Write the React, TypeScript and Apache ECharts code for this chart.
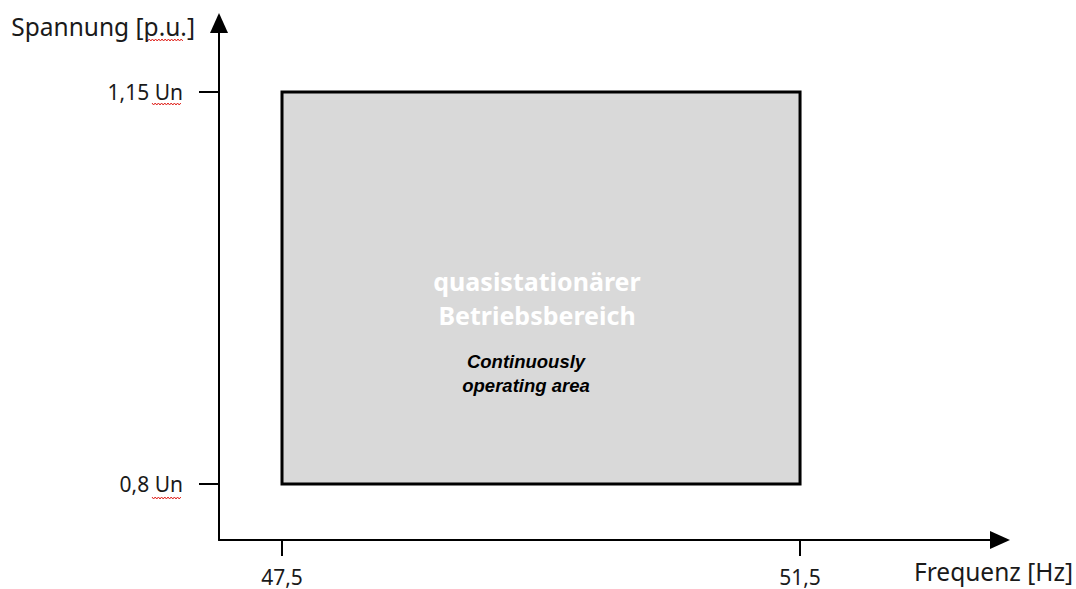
import React, { useEffect, useRef } from "react";
import * as echarts from "echarts";

// ---- data ----
const freqTicks = [47.5, 51.5];
const freqTickLabels = ["47,5", "51,5"];
const voltTicks = [0.8, 1.15];
const voltTickLabels = ["0,8 Un", "1,15 Un"];
const areaFreq = [47.5, 51.5];
const areaVolt = [0.8, 1.15];
const areaTitle = ["quasistationärer", "Betriebsbereich"];
const areaSubtitle = ["Continuously", "operating area"];
const xName = "Frequenz [Hz]";
const yName = "Spannung [p.u.]";

const FONT = "'Noto Sans', 'Open Sans', sans-serif";

// decorative spell-check squiggle (as in the source document)
function squiggle(x0: number, x1: number, y: number) {
  const pts: number[][] = [];
  let up = true;
  for (let x = x0; x <= x1; x += 1.6) {
    pts.push([x, up ? y - 1 : y + 1]);
    up = !up;
  }
  return {
    type: "polyline",
    shape: { points: pts },
    style: { stroke: "#e0201a", lineWidth: 1, fill: null },
    silent: true,
  };
}

export default function App() {
  const ref = useRef<HTMLDivElement>(null);
  useEffect(() => {
    if (!ref.current) return;
    const chart = echarts.init(ref.current, null, { renderer: "svg" });
    const fmtX = (v: number) => {
      const i = freqTicks.indexOf(v);
      return i >= 0 ? freqTickLabels[i] : "";
    };
    const fmtY = (v: number) => {
      const i = voltTicks.findIndex((t) => Math.abs(t - v) < 1e-9);
      return i >= 0 ? voltTickLabels[i] : "";
    };
    chart.setOption({
      animation: false,
      backgroundColor: "#ffffff",
      grid: {
        left: 219,
        right: 76,
        top: 23,
        bottom: 49,
        containLabel: false,
        outerBoundsMode: "none",
      },
      graphic: [
        squiggle(146, 183, 40),
        squiggle(152, 181, 104),
        squiggle(152, 181, 498),
      ],
      xAxis: {
        type: "value",
        min: 47.0135,
        max: 53.044,
        name: xName,
        nameLocation: "end",
        nameGap: 73,
        nameTextStyle: {
          fontFamily: FONT,
          fontSize: 24.5,
          color: "#1a1a1a",
          align: "right",
          verticalAlign: "top",
          padding: [19, 0, 0, 0],
        },
        axisLine: {
          show: true,
          lineStyle: { color: "#000", width: 2 },
          symbol: ["none", "triangle"],
          symbolSize: [18, 20],
        },
        axisTick: {
          show: true,
          inside: false,
          length: 16,
          lineStyle: { color: "#000", width: 2 },
          customValues: freqTicks,
        },
        axisLabel: {
          show: true,
          margin: 26,
          fontFamily: FONT,
          fontSize: 21,
          color: "#1a1a1a",
          customValues: freqTicks,
          formatter: fmtX,
        },
        splitLine: { show: false },
      },
      yAxis: {
        type: "value",
        min: 0.75,
        max: 1.2116,
        name: yName,
        nameLocation: "end",
        nameGap: -3,
        nameTextStyle: {
          fontFamily: FONT,
          fontSize: 24.5,
          color: "#1a1a1a",
          align: "right",
          verticalAlign: "middle",
          padding: [0, 24, 0, 0],
        },
        axisLine: {
          show: true,
          lineStyle: { color: "#000", width: 2 },
          symbol: ["none", "triangle"],
          symbolSize: [18, 20],
        },
        axisTick: {
          show: true,
          inside: false,
          length: 20,
          lineStyle: { color: "#000", width: 2 },
          customValues: voltTicks,
        },
        axisLabel: {
          show: true,
          margin: 36,
          fontFamily: FONT,
          fontSize: 21,
          color: "#1a1a1a",
          customValues: voltTicks,
          formatter: fmtY,
        },
        splitLine: { show: false },
      },
      series: [
        {
          type: "custom",
          data: [[areaFreq[0], areaFreq[1], areaVolt[0], areaVolt[1]]],
          encode: { x: [0, 1], y: [2, 3] },
          renderItem: (params: any, api: any) => {
            const p0 = api.coord([api.value(0), api.value(2)]);
            const p1 = api.coord([api.value(1), api.value(3)]);
            const x = Math.min(p0[0], p1[0]);
            const y = Math.min(p0[1], p1[1]);
            const w = Math.abs(p1[0] - p0[0]);
            const h = Math.abs(p1[1] - p0[1]);
            const cx = x + w / 2;
            const cy = y + h / 2;
            return {
              type: "group",
              children: [
                {
                  type: "rect",
                  shape: { x, y, width: w, height: h },
                  style: { fill: "#d9d9d9", stroke: "#000", lineWidth: 3 },
                },
                {
                  type: "text",
                  style: {
                    text: areaTitle.join("\n"),
                    x: cx - 4,
                    y: cy + 10,
                    align: "center",
                    verticalAlign: "middle",
                    fill: "#ffffff",
                    fontFamily: FONT,
                    fontWeight: "bold",
                    fontSize: 25,
                    lineHeight: 34,
                  },
                },
                {
                  type: "text",
                  style: {
                    text: areaSubtitle.join("\n"),
                    x: cx - 15,
                    y: cy + 86,
                    align: "center",
                    verticalAlign: "middle",
                    fill: "#000000",
                    fontFamily: "'Liberation Sans', Arial, sans-serif",
                    fontWeight: "bold",
                    fontStyle: "italic",
                    fontSize: 18.5,
                    lineHeight: 24,
                  },
                },
              ],
            };
          },
        },
      ],
    });
    return () => chart.dispose();
  }, []);
  return (
    <div
      ref={ref}
      style={{ position: "absolute", left: 0, top: 0, width: 1076, height: 589 }}
    />
  );
}
